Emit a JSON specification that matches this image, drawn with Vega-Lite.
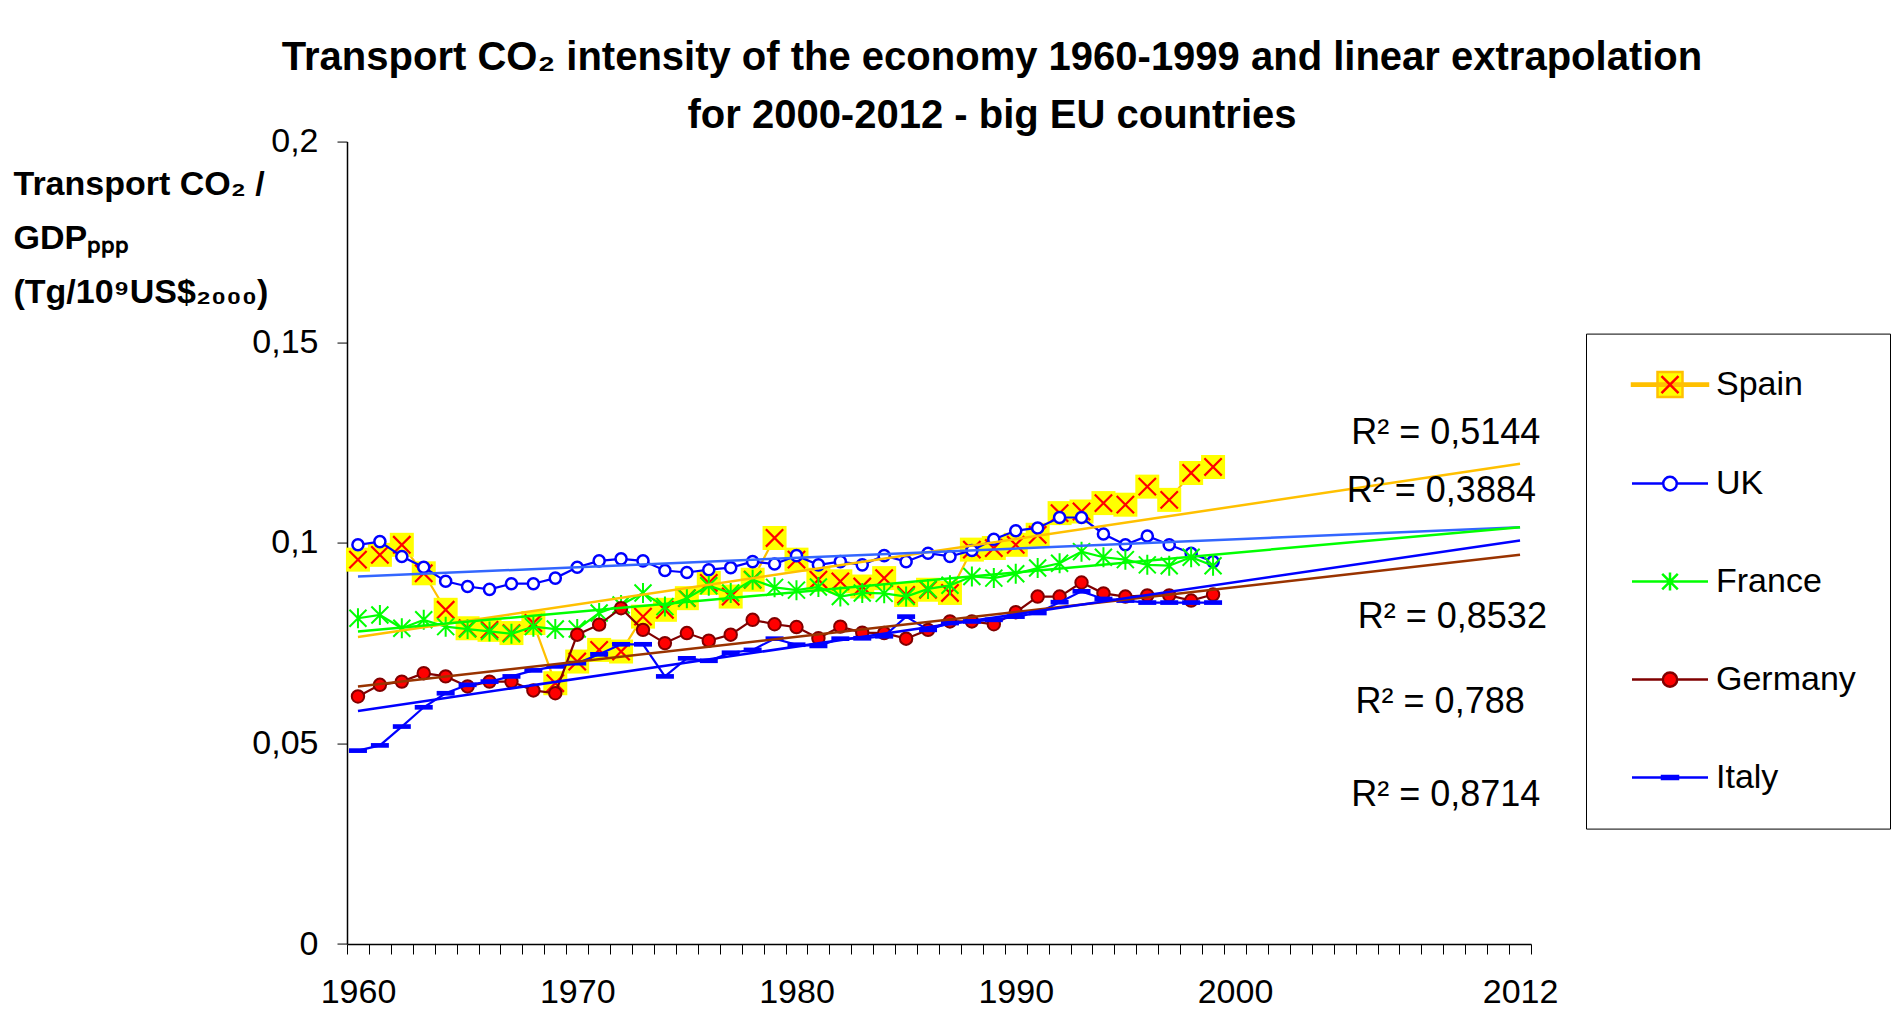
{
  "$schema": "https://vega.github.io/schema/vega-lite/v6.json",
  "width": 1184,
  "height": 802.4,
  "autosize": "none",
  "padding": {"left": 347, "top": 141.6, "right": 367, "bottom": 83},
  "background": "#FFFFFF",
  "config": {"font": "Liberation Sans", "view": {"stroke": null}},
  "title": {
    "text": ["Transport CO₂ intensity of the economy 1960-1999 and linear extrapolation", "for 2000-2012 - big EU countries"],
    "fontSize": 40, "font": "Liberation Sans", "fontWeight": "bold", "color": "#000000",
    "anchor": "middle", "dx": 53, "dy": 17, "lineHeight": 58, "offset": 6
  },
  "resolve": {"axis": {"x": "independent", "y": "independent"}},
  "datasets": {
    "series": [
      {"country":"Spain","year":1960,"value":0.0958},{"country":"Spain","year":1961,"value":0.0970},{"country":"Spain","year":1962,"value":0.0995},{"country":"Spain","year":1963,"value":0.0924},{"country":"Spain","year":1964,"value":0.0833},{"country":"Spain","year":1965,"value":0.0787},{"country":"Spain","year":1966,"value":0.0783},{"country":"Spain","year":1967,"value":0.0775},{"country":"Spain","year":1968,"value":0.0800},{"country":"Spain","year":1969,"value":0.0650},{"country":"Spain","year":1970,"value":0.0704},{"country":"Spain","year":1971,"value":0.0733},{"country":"Spain","year":1972,"value":0.0729},{"country":"Spain","year":1973,"value":0.0816},{"country":"Spain","year":1974,"value":0.0833},{"country":"Spain","year":1975,"value":0.0862},{"country":"Spain","year":1976,"value":0.0900},{"country":"Spain","year":1977,"value":0.0866},{"country":"Spain","year":1978,"value":0.0908},{"country":"Spain","year":1979,"value":0.1012},{"country":"Spain","year":1980,"value":0.0958},{"country":"Spain","year":1981,"value":0.0908},{"country":"Spain","year":1982,"value":0.0904},{"country":"Spain","year":1983,"value":0.0891},{"country":"Spain","year":1984,"value":0.0912},{"country":"Spain","year":1985,"value":0.0870},{"country":"Spain","year":1986,"value":0.0883},{"country":"Spain","year":1987,"value":0.0875},{"country":"Spain","year":1988,"value":0.0983},{"country":"Spain","year":1989,"value":0.0987},{"country":"Spain","year":1990,"value":0.0995},{"country":"Spain","year":1991,"value":0.1020},{"country":"Spain","year":1992,"value":0.1074},{"country":"Spain","year":1993,"value":0.1078},{"country":"Spain","year":1994,"value":0.1099},{"country":"Spain","year":1995,"value":0.1095},{"country":"Spain","year":1996,"value":0.1140},{"country":"Spain","year":1997,"value":0.1107},{"country":"Spain","year":1998,"value":0.1174},{"country":"Spain","year":1999,"value":0.1189},
      {"country":"UK","year":1960,"value":0.0995},{"country":"UK","year":1961,"value":0.1003},{"country":"UK","year":1962,"value":0.0966},{"country":"UK","year":1963,"value":0.0939},{"country":"UK","year":1964,"value":0.0904},{"country":"UK","year":1965,"value":0.0891},{"country":"UK","year":1966,"value":0.0884},{"country":"UK","year":1967,"value":0.0898},{"country":"UK","year":1968,"value":0.0898},{"country":"UK","year":1969,"value":0.0912},{"country":"UK","year":1970,"value":0.0939},{"country":"UK","year":1971,"value":0.0955},{"country":"UK","year":1972,"value":0.0960},{"country":"UK","year":1973,"value":0.0955},{"country":"UK","year":1974,"value":0.0931},{"country":"UK","year":1975,"value":0.0926},{"country":"UK","year":1976,"value":0.0933},{"country":"UK","year":1977,"value":0.0938},{"country":"UK","year":1978,"value":0.0953},{"country":"UK","year":1979,"value":0.0947},{"country":"UK","year":1980,"value":0.0968},{"country":"UK","year":1981,"value":0.0945},{"country":"UK","year":1982,"value":0.0953},{"country":"UK","year":1983,"value":0.0945},{"country":"UK","year":1984,"value":0.0968},{"country":"UK","year":1985,"value":0.0953},{"country":"UK","year":1986,"value":0.0974},{"country":"UK","year":1987,"value":0.0966},{"country":"UK","year":1988,"value":0.0981},{"country":"UK","year":1989,"value":0.1009},{"country":"UK","year":1990,"value":0.1030},{"country":"UK","year":1991,"value":0.1037},{"country":"UK","year":1992,"value":0.1063},{"country":"UK","year":1993,"value":0.1063},{"country":"UK","year":1994,"value":0.1022},{"country":"UK","year":1995,"value":0.0995},{"country":"UK","year":1996,"value":0.1017},{"country":"UK","year":1997,"value":0.0995},{"country":"UK","year":1998,"value":0.0974},{"country":"UK","year":1999,"value":0.0953},
      {"country":"France","year":1960,"value":0.0812},{"country":"France","year":1961,"value":0.0820},{"country":"France","year":1962,"value":0.0787},{"country":"France","year":1963,"value":0.0808},{"country":"France","year":1964,"value":0.0791},{"country":"France","year":1965,"value":0.0785},{"country":"France","year":1966,"value":0.0779},{"country":"France","year":1967,"value":0.0773},{"country":"France","year":1968,"value":0.0791},{"country":"France","year":1969,"value":0.0785},{"country":"France","year":1970,"value":0.0785},{"country":"France","year":1971,"value":0.0825},{"country":"France","year":1972,"value":0.0845},{"country":"France","year":1973,"value":0.0875},{"country":"France","year":1974,"value":0.0841},{"country":"France","year":1975,"value":0.0862},{"country":"France","year":1976,"value":0.0893},{"country":"France","year":1977,"value":0.0875},{"country":"France","year":1978,"value":0.0908},{"country":"France","year":1979,"value":0.0889},{"country":"France","year":1980,"value":0.0882},{"country":"France","year":1981,"value":0.0890},{"country":"France","year":1982,"value":0.0866},{"country":"France","year":1983,"value":0.0875},{"country":"France","year":1984,"value":0.0874},{"country":"France","year":1985,"value":0.0866},{"country":"France","year":1986,"value":0.0885},{"country":"France","year":1987,"value":0.0894},{"country":"France","year":1988,"value":0.0916},{"country":"France","year":1989,"value":0.0912},{"country":"France","year":1990,"value":0.0923},{"country":"France","year":1991,"value":0.0937},{"country":"France","year":1992,"value":0.0949},{"country":"France","year":1993,"value":0.0978},{"country":"France","year":1994,"value":0.0964},{"country":"France","year":1995,"value":0.0958},{"country":"France","year":1996,"value":0.0945},{"country":"France","year":1997,"value":0.0943},{"country":"France","year":1998,"value":0.0964},{"country":"France","year":1999,"value":0.0943},
      {"country":"Germany","year":1960,"value":0.0617},{"country":"Germany","year":1961,"value":0.0646},{"country":"Germany","year":1962,"value":0.0654},{"country":"Germany","year":1963,"value":0.0675},{"country":"Germany","year":1964,"value":0.0667},{"country":"Germany","year":1965,"value":0.0642},{"country":"Germany","year":1966,"value":0.0654},{"country":"Germany","year":1967,"value":0.0654},{"country":"Germany","year":1968,"value":0.0632},{"country":"Germany","year":1969,"value":0.0625},{"country":"Germany","year":1970,"value":0.0771},{"country":"Germany","year":1971,"value":0.0796},{"country":"Germany","year":1972,"value":0.0837},{"country":"Germany","year":1973,"value":0.0783},{"country":"Germany","year":1974,"value":0.0750},{"country":"Germany","year":1975,"value":0.0775},{"country":"Germany","year":1976,"value":0.0756},{"country":"Germany","year":1977,"value":0.0771},{"country":"Germany","year":1978,"value":0.0808},{"country":"Germany","year":1979,"value":0.0797},{"country":"Germany","year":1980,"value":0.0790},{"country":"Germany","year":1981,"value":0.0762},{"country":"Germany","year":1982,"value":0.0791},{"country":"Germany","year":1983,"value":0.0776},{"country":"Germany","year":1984,"value":0.0775},{"country":"Germany","year":1985,"value":0.0761},{"country":"Germany","year":1986,"value":0.0783},{"country":"Germany","year":1987,"value":0.0804},{"country":"Germany","year":1988,"value":0.0804},{"country":"Germany","year":1989,"value":0.0797},{"country":"Germany","year":1990,"value":0.0827},{"country":"Germany","year":1991,"value":0.0866},{"country":"Germany","year":1992,"value":0.0866},{"country":"Germany","year":1993,"value":0.0901},{"country":"Germany","year":1994,"value":0.0874},{"country":"Germany","year":1995,"value":0.0866},{"country":"Germany","year":1996,"value":0.0869},{"country":"Germany","year":1997,"value":0.0869},{"country":"Germany","year":1998,"value":0.0856},{"country":"Germany","year":1999,"value":0.0871},
      {"country":"Italy","year":1960,"value":0.0482},{"country":"Italy","year":1961,"value":0.0495},{"country":"Italy","year":1962,"value":0.0542},{"country":"Italy","year":1963,"value":0.0590},{"country":"Italy","year":1964,"value":0.0625},{"country":"Italy","year":1965,"value":0.0646},{"country":"Italy","year":1966,"value":0.0654},{"country":"Italy","year":1967,"value":0.0667},{"country":"Italy","year":1968,"value":0.0682},{"country":"Italy","year":1969,"value":0.0692},{"country":"Italy","year":1970,"value":0.0700},{"country":"Italy","year":1971,"value":0.0722},{"country":"Italy","year":1972,"value":0.0747},{"country":"Italy","year":1973,"value":0.0747},{"country":"Italy","year":1974,"value":0.0667},{"country":"Italy","year":1975,"value":0.0712},{"country":"Italy","year":1976,"value":0.0706},{"country":"Italy","year":1977,"value":0.0726},{"country":"Italy","year":1978,"value":0.0733},{"country":"Italy","year":1979,"value":0.0761},{"country":"Italy","year":1980,"value":0.0746},{"country":"Italy","year":1981,"value":0.0743},{"country":"Italy","year":1982,"value":0.0761},{"country":"Italy","year":1983,"value":0.0762},{"country":"Italy","year":1984,"value":0.0767},{"country":"Italy","year":1985,"value":0.0816},{"country":"Italy","year":1986,"value":0.0783},{"country":"Italy","year":1987,"value":0.0800},{"country":"Italy","year":1988,"value":0.0804},{"country":"Italy","year":1989,"value":0.0808},{"country":"Italy","year":1990,"value":0.0816},{"country":"Italy","year":1991,"value":0.0825},{"country":"Italy","year":1992,"value":0.0852},{"country":"Italy","year":1993,"value":0.0879},{"country":"Italy","year":1994,"value":0.0860},{"country":"Italy","year":1995,"value":0.0856},{"country":"Italy","year":1996,"value":0.0851},{"country":"Italy","year":1997,"value":0.0851},{"country":"Italy","year":1998,"value":0.0851},{"country":"Italy","year":1999,"value":0.0851}
    ],
    "trend": [
      {"country":"Spain","year":1960,"value":0.0765},{"country":"Spain","year":2013,"value":0.1197},
      {"country":"UK","year":1960,"value":0.0916},{"country":"UK","year":2013,"value":0.1039},
      {"country":"France","year":1960,"value":0.0779},{"country":"France","year":2013,"value":0.1039},
      {"country":"Germany","year":1960,"value":0.0642},{"country":"Germany","year":2013,"value":0.0970},
      {"country":"Italy","year":1960,"value":0.0581},{"country":"Italy","year":2013,"value":0.1006}
    ],
    "r2": [
      {"country":"Spain","label":"R² = 0,5144"},
      {"country":"UK","label":"R² = 0,3884"},
      {"country":"France","label":"R² = 0,8532"},
      {"country":"Germany","label":"R² = 0,788"},
      {"country":"Italy","label":"R² = 0,8714"}
    ]
  },
  "layer": [
    {
      "encoding": {
        "x": {
          "field": "year", "type": "quantitative",
          "scale": {"domain": [1959.5, 2013.5], "nice": false, "zero": false},
          "axis": {
            "title": null, "grid": false,
            "values": [1959.5,1960.5,1961.5,1962.5,1963.5,1964.5,1965.5,1966.5,1967.5,1968.5,1969.5,1970.5,1971.5,1972.5,1973.5,1974.5,1975.5,1976.5,1977.5,1978.5,1979.5,1980.5,1981.5,1982.5,1983.5,1984.5,1985.5,1986.5,1987.5,1988.5,1989.5,1990.5,1991.5,1992.5,1993.5,1994.5,1995.5,1996.5,1997.5,1998.5,1999.5,2000.5,2001.5,2002.5,2003.5,2004.5,2005.5,2006.5,2007.5,2008.5,2009.5,2010.5,2011.5,2012.5,2013.5],
            "labelExpr": "datum.value == 1959.5 ? '1960' : datum.value == 1969.5 ? '1970' : datum.value == 1979.5 ? '1980' : datum.value == 1989.5 ? '1990' : datum.value == 1999.5 ? '2000' : datum.value == 2012.5 ? '2012' : ''",
            "labelOffset": 10.963, "labelFlush": false, "labelOverlap": false, "labelBound": false,
            "labelFontSize": 34, "labelFont": "Liberation Sans", "labelColor": "#000000", "labelPadding": 21,
            "tickSize": 10, "tickColor": "#000000", "tickWidth": 1,
            "domainColor": "#000000", "domainWidth": 1.5
          }
        },
        "y": {
          "field": "value", "type": "quantitative",
          "scale": {"domain": [0, 0.2], "nice": false, "zero": true},
          "axis": {
            "values": [0, 0.05, 0.1, 0.15, 0.2], "grid": false,
            "labelExpr": "replace(toString(datum.value), '.', ',')",
            "labelFontSize": 34, "labelFont": "Liberation Sans", "labelColor": "#000000", "labelPadding": 19,
            "tickSize": 10, "tickColor": "#555555", "tickWidth": 1.5,
            "domainColor": "#000000", "domainWidth": 1.5,
            "title": ["Transport CO₂ /", "GDPₚₚₚ", "(Tg/10⁹US$₂₀₀₀)"],
            "titleAngle": 0, "titleAlign": "left", "titleBaseline": "top",
            "titleX": -334, "titleY": 26, "titleFontSize": 34, "titleFontWeight": "bold",
            "titleFont": "Liberation Sans", "titleColor": "#000000", "titleLineHeight": 54
          }
        }
      },
      "layer": [
        {
          "data": {"name": "series"},
          "transform": [{"filter": "datum.country === 'Spain'"}],
          "mark": {"type": "line", "strokeWidth": 2.2},
          "encoding": {
            "stroke": {
              "field": "country", "type": "nominal",
              "scale": {"domain": ["Spain","UK","France","Germany","Italy"], "range": ["#FFC000","#0000FF","#00FF00","#800000","#0000FF"]},
              "legend": {
                "orient": "none", "legendX": 1239, "legendY": 192, "direction": "vertical", "title": null,
                "padding": 34, "strokeColor": "#000000", "fillColor": "#FFFFFF",
                "symbolSize": 400, "symbolStrokeWidth": 2.5, "symbolOffset": 33, "symbolType": "M-1,0H1",
                "labelOffset": 29, "labelFontSize": 34, "labelFont": "Liberation Sans", "labelColor": "#000000", "labelLimit": 400,
                "rowPadding": 64, "zindex": 1,
                "encode": {
                  "symbols": {
                    "update": {
                      "shape": {"signal": "datum.value === 'Spain' ? 'M-3.8,-0.11H3.8V0.11H-3.8ZM-1.25,-1.25H1.25V1.25H-1.25Z' : datum.value === 'UK' ? 'M-3.8,0H-0.68M0.68,0H3.8M0.68,0A0.68,0.68,0,1,1,-0.68,0A0.68,0.68,0,1,1,0.68,0Z' : datum.value === 'France' ? 'M-3.8,0H3.8M0,-0.9V0.9M-0.78,-0.78L0.78,0.78M0.78,-0.78L-0.78,0.78' : datum.value === 'Germany' ? 'M-3.8,0H-0.72M0.72,0H3.8M0.72,0A0.72,0.72,0,1,1,-0.72,0A0.72,0.72,0,1,1,0.72,0Z' : 'M-3.8,0H3.8M-0.8,-0.15H0.8V0.15H-0.8Z'"},
                      "fill": [
                        {"test": "datum.value === 'Spain'", "value": {"gradient": "linear", "x1": 0, "y1": 0, "x2": 1, "y2": 0, "stops": [{"offset": 0, "color": "#FFC000"}, {"offset": 0.3355, "color": "#FFC000"}, {"offset": 0.3355, "color": "#FFFF00"}, {"offset": 0.6645, "color": "#FFFF00"}, {"offset": 0.6645, "color": "#FFC000"}, {"offset": 1, "color": "#FFC000"}]}},
                        {"signal": "datum.value === 'UK' ? '#FFFFFF' : datum.value === 'Germany' ? '#FF0000' : datum.value === 'Italy' ? '#0000FF' : 'transparent'"}
                      ],
                      "stroke": {"signal": "datum.value === 'UK' || datum.value === 'Italy' ? '#0000FF' : datum.value === 'France' ? '#00FF00' : datum.value === 'Germany' ? '#800000' : 'transparent'"},
                      "strokeWidth": {"value": 2.5},
                      "opacity": {"value": 1}
                    }
                  }
                }
              }
            }
          }
        },
        {
          "data": {"name": "series"},
          "transform": [{"filter": "datum.country === 'Spain'"}],
          "mark": {"type": "point", "shape": "square", "size": 576, "filled": true, "fill": "#FFFF00", "strokeWidth": 0, "opacity": 1}
        },
        {
          "data": {"name": "series"},
          "transform": [{"filter": "datum.country === 'Spain'"}],
          "mark": {"type": "point", "size": 300, "filled": false, "stroke": "#FF0000", "strokeWidth": 2.2, "opacity": 1},
          "encoding": {
            "shape": {
              "field": "country", "type": "nominal",
              "scale": {"domain": ["Spain"], "range": ["M-1,-1L1,1M1,-1L-1,1"]},
              "legend": {
                "orient": "none", "legendX": 1313, "legendY": 233, "direction": "vertical", "title": null,
                "padding": 0, "symbolSize": 289, "symbolStrokeColor": "#FF0000", "symbolStrokeWidth": 2.5,
                "symbolFillColor": "transparent", "labelExpr": "''", "labelFontSize": 1, "zindex": 2
              }
            }
          }
        },
        {
          "data": {"name": "series"},
          "transform": [{"filter": "datum.country === 'UK'"}],
          "mark": {"type": "line", "strokeWidth": 2.2},
          "encoding": {"stroke": {"field": "country", "type": "nominal", "scale": {"domain": ["Spain","UK","France","Germany","Italy"], "range": ["#FFC000","#0000FF","#00FF00","#800000","#0000FF"]}, "legend": null}}
        },
        {
          "data": {"name": "series"},
          "transform": [{"filter": "datum.country === 'UK'"}],
          "mark": {"type": "point", "shape": "circle", "size": 123, "filled": true, "fill": "#FFFFFF", "stroke": "#0000FF", "strokeWidth": 2.5, "opacity": 1}
        },
        {
          "data": {"name": "series"},
          "transform": [{"filter": "datum.country === 'France'"}],
          "mark": {"type": "line", "strokeWidth": 2.2},
          "encoding": {"stroke": {"field": "country", "type": "nominal", "scale": {"domain": ["Spain","UK","France","Germany","Italy"], "range": ["#FFC000","#0000FF","#00FF00","#800000","#0000FF"]}, "legend": null}}
        },
        {
          "data": {"name": "series"},
          "transform": [{"filter": "datum.country === 'France'"}],
          "mark": {"type": "point", "shape": "M0,-1V1M-0.85,-0.85L0.85,0.85M0.85,-0.85L-0.85,0.85", "size": 400, "filled": false, "stroke": "#00FF00", "strokeWidth": 2, "opacity": 1}
        },
        {
          "data": {"name": "series"},
          "transform": [{"filter": "datum.country === 'Germany'"}],
          "mark": {"type": "line", "strokeWidth": 2.2},
          "encoding": {"stroke": {"field": "country", "type": "nominal", "scale": {"domain": ["Spain","UK","France","Germany","Italy"], "range": ["#FFC000","#0000FF","#00FF00","#800000","#0000FF"]}, "legend": null}}
        },
        {
          "data": {"name": "series"},
          "transform": [{"filter": "datum.country === 'Germany'"}],
          "mark": {"type": "point", "shape": "circle", "size": 154, "filled": true, "fill": "#FF0000", "stroke": "#800000", "strokeWidth": 2, "opacity": 1}
        },
        {
          "data": {"name": "series"},
          "transform": [{"filter": "datum.country === 'Italy'"}],
          "mark": {"type": "line", "strokeWidth": 2.2},
          "encoding": {"stroke": {"field": "country", "type": "nominal", "scale": {"domain": ["Spain","UK","France","Germany","Italy"], "range": ["#FFC000","#0000FF","#00FF00","#800000","#0000FF"]}, "legend": null}}
        },
        {
          "data": {"name": "series"},
          "transform": [{"filter": "datum.country === 'Italy'"}],
          "mark": {"type": "point", "shape": "M-1,-0.26H1V0.26H-1Z", "size": 324, "filled": true, "fill": "#0000FF", "strokeWidth": 0, "opacity": 1}
        },
        {
          "data": {"name": "trend"},
          "mark": {"type": "line", "strokeWidth": 2.5},
          "encoding": {"color": {"field": "country", "type": "nominal", "scale": {"domain": ["Spain","UK","France","Germany","Italy"], "range": ["#FFC000","#3366FF","#00FF00","#993300","#0000FF"]}, "legend": null}}
        }
      ]
    },
    {
      "data": {"name": "r2"},
      "transform": [{"filter": "datum.country === 'Spain'"}],
      "mark": {"type": "text", "align": "left", "baseline": "middle", "fontSize": 36, "font": "Liberation Sans", "color": "#000000"},
      "encoding": {"x": {"datum": 2005.3, "type": "quantitative", "axis": null}, "y": {"datum": 0.1273, "type": "quantitative", "axis": null}, "text": {"field": "label", "type": "nominal"}}
    },
    {
      "data": {"name": "r2"},
      "transform": [{"filter": "datum.country === 'UK'"}],
      "mark": {"type": "text", "align": "left", "baseline": "middle", "fontSize": 36, "font": "Liberation Sans", "color": "#000000"},
      "encoding": {"x": {"datum": 2005.1, "type": "quantitative", "axis": null}, "y": {"datum": 0.1130, "type": "quantitative", "axis": null}, "text": {"field": "label", "type": "nominal"}}
    },
    {
      "data": {"name": "r2"},
      "transform": [{"filter": "datum.country === 'France'"}],
      "mark": {"type": "text", "align": "left", "baseline": "middle", "fontSize": 36, "font": "Liberation Sans", "color": "#000000"},
      "encoding": {"x": {"datum": 2005.6, "type": "quantitative", "axis": null}, "y": {"datum": 0.0815, "type": "quantitative", "axis": null}, "text": {"field": "label", "type": "nominal"}}
    },
    {
      "data": {"name": "r2"},
      "transform": [{"filter": "datum.country === 'Germany'"}],
      "mark": {"type": "text", "align": "left", "baseline": "middle", "fontSize": 36, "font": "Liberation Sans", "color": "#000000"},
      "encoding": {"x": {"datum": 2005.5, "type": "quantitative", "axis": null}, "y": {"datum": 0.0603, "type": "quantitative", "axis": null}, "text": {"field": "label", "type": "nominal"}}
    },
    {
      "data": {"name": "r2"},
      "transform": [{"filter": "datum.country === 'Italy'"}],
      "mark": {"type": "text", "align": "left", "baseline": "middle", "fontSize": 36, "font": "Liberation Sans", "color": "#000000"},
      "encoding": {"x": {"datum": 2005.3, "type": "quantitative", "axis": null}, "y": {"datum": 0.0371, "type": "quantitative", "axis": null}, "text": {"field": "label", "type": "nominal"}}
    }
  ]
}
